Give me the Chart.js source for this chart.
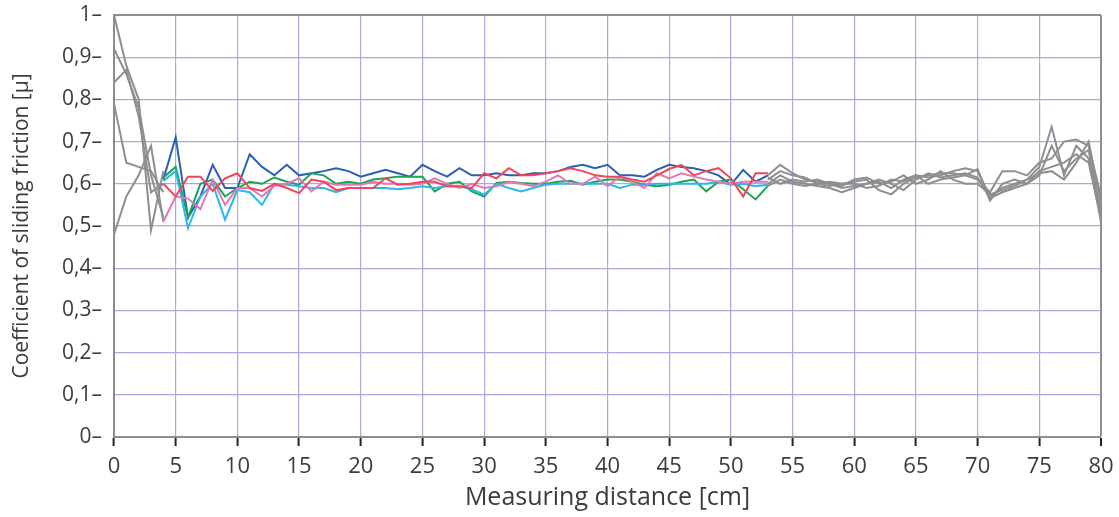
<!DOCTYPE html>
<html>
<head>
<meta charset="utf-8">
<script src="https://cdn.jsdelivr.net/npm/chart.js@4.4.1/dist/chart.umd.min.js"></script>
<style>
  html, body { margin: 0; padding: 0; background: #ffffff; }
  #wrap { width: 1119px; height: 517px; position: relative; }
</style>
</head>
<body>
<div id="wrap"><canvas id="friction"></canvas></div>
<script>
/* ── DATA ─────────────────────────────────────────────────── */
// measuring distance [cm]
const distStart = [0, 1, 2, 3, 4];
const distMid = [4, 5, 6, 7, 8, 9, 10, 11, 12, 13, 14, 15, 16, 17, 18, 19, 20, 21, 22, 23, 24,
  25, 26, 27, 28, 29, 30, 31, 32, 33, 34, 35, 36, 37, 38, 39, 40, 41, 42, 43, 44, 45,
  46, 47, 48, 49, 50, 51, 52, 53];
const distEnd = [53, 54, 55, 56, 57, 58, 59, 60, 61, 62, 63, 64, 65, 66, 67, 68, 69, 70,
  71, 72, 73, 74, 75, 76, 77, 78, 79, 80];

// run-in (grey), 0-4 cm
const grayStart1 = [1.00, 0.88, 0.80, 0.49, 0.63];
const grayStart2 = [0.92, 0.86, 0.78, 0.62, 0.52];
const grayStart3 = [0.84, 0.87, 0.76, 0.58, 0.60];
const grayStart4 = [0.79, 0.65, 0.64, 0.63, 0.58];
const grayStart5 = [0.48, 0.57, 0.62, 0.69, 0.51];

// measured runs, 4-53 cm
const blueRun = [0.61, 0.71, 0.52, 0.57, 0.645, 0.59, 0.59, 0.67, 0.64, 0.62, 0.645, 0.62,
  0.625, 0.63, 0.637, 0.63, 0.617, 0.625, 0.633, 0.625, 0.617, 0.645, 0.63, 0.617, 0.637,
  0.62, 0.62, 0.625, 0.62, 0.62, 0.625, 0.625, 0.63, 0.64, 0.645, 0.637, 0.645, 0.62, 0.62,
  0.617, 0.633, 0.645, 0.64, 0.637, 0.63, 0.62, 0.598, 0.633, 0.605, 0.62];
const greenRun = [0.615, 0.64, 0.52, 0.6, 0.61, 0.57, 0.59, 0.605, 0.6, 0.615, 0.605, 0.598,
  0.625, 0.62, 0.6, 0.605, 0.6, 0.61, 0.613, 0.617, 0.617, 0.617, 0.582, 0.6, 0.605, 0.582,
  0.57, 0.602, 0.605, 0.602, 0.6, 0.6, 0.605, 0.607, 0.598, 0.605, 0.61, 0.61, 0.605, 0.598,
  0.594, 0.598, 0.605, 0.61, 0.582, 0.605, 0.61, 0.587, 0.563, 0.595];
const cyanRun = [0.607, 0.63, 0.495, 0.57, 0.6, 0.515, 0.585, 0.58, 0.55, 0.6, 0.598, 0.594,
  0.59, 0.59, 0.58, 0.59, 0.59, 0.59, 0.59, 0.587, 0.59, 0.594, 0.59, 0.594, 0.594, 0.587,
  0.574, 0.6, 0.59, 0.582, 0.59, 0.598, 0.6, 0.6, 0.6, 0.6, 0.6, 0.59, 0.598, 0.598, 0.6,
  0.6, 0.6, 0.6, 0.6, 0.605, 0.598, 0.6, 0.594, 0.598];
const pinkRun = [0.51, 0.57, 0.565, 0.54, 0.61, 0.55, 0.59, 0.59, 0.57, 0.595, 0.6, 0.613,
  0.582, 0.605, 0.598, 0.598, 0.598, 0.605, 0.6, 0.6, 0.598, 0.6, 0.613, 0.6, 0.59, 0.6,
  0.59, 0.594, 0.605, 0.6, 0.594, 0.605, 0.62, 0.6, 0.6, 0.617, 0.594, 0.617, 0.605, 0.59,
  0.625, 0.613, 0.625, 0.617, 0.61, 0.605, 0.6, 0.605, 0.605, 0.605];
const redRun = [0.6, 0.57, 0.617, 0.617, 0.583, 0.613, 0.625, 0.59, 0.583, 0.6, 0.59, 0.578,
  0.61, 0.605, 0.585, 0.59, 0.59, 0.59, 0.613, 0.598, 0.6, 0.605, 0.605, 0.594, 0.594, 0.59,
  0.625, 0.613, 0.637, 0.62, 0.62, 0.625, 0.63, 0.637, 0.63, 0.62, 0.617, 0.617, 0.61, 0.605,
  0.62, 0.635, 0.645, 0.62, 0.63, 0.637, 0.613, 0.57, 0.625, 0.625];

// run-out (grey), 53-80 cm
const grayEnd1 = [0.62, 0.645, 0.625, 0.61, 0.605, 0.6, 0.59, 0.595, 0.6, 0.605, 0.59, 0.61,
  0.62, 0.615, 0.62, 0.63, 0.637, 0.63, 0.57, 0.59, 0.6, 0.61, 0.64, 0.735, 0.62, 0.69, 0.66, 0.51];
const grayEnd2 = [0.61, 0.63, 0.62, 0.615, 0.6, 0.595, 0.6, 0.605, 0.61, 0.585, 0.575, 0.6,
  0.615, 0.62, 0.625, 0.625, 0.62, 0.61, 0.58, 0.63, 0.63, 0.62, 0.65, 0.66, 0.7, 0.705, 0.69, 0.57];
const grayEnd3 = [0.6, 0.62, 0.605, 0.6, 0.595, 0.59, 0.58, 0.59, 0.6, 0.61, 0.6, 0.585,
  0.61, 0.625, 0.615, 0.62, 0.625, 0.615, 0.566, 0.58, 0.59, 0.6, 0.62, 0.69, 0.63, 0.66, 0.68, 0.53];
const grayEnd4 = [0.615, 0.6, 0.61, 0.605, 0.61, 0.6, 0.595, 0.61, 0.615, 0.6, 0.605, 0.62,
  0.6, 0.61, 0.63, 0.61, 0.6, 0.6, 0.575, 0.585, 0.595, 0.61, 0.625, 0.63, 0.61, 0.65, 0.7, 0.55];
const grayEnd5 = [0.595, 0.61, 0.6, 0.595, 0.6, 0.605, 0.6, 0.6, 0.59, 0.595, 0.61, 0.605,
  0.62, 0.6, 0.61, 0.615, 0.62, 0.635, 0.56, 0.6, 0.61, 0.6, 0.63, 0.64, 0.65, 0.67, 0.65, 0.52];

/* ── HELPERS ──────────────────────────────────────────────── */
const GRID = '#a9a9de';
const FRAME = '#8e8e8e';
const TEXT = '#3c3c3c';
const GREY = '#8e8e8e';

function pts(xs, ys) {
  return xs.map((x, i) => ({ x, y: ys[i] }));
}

function line(data, color) {
  return {
    data,
    borderColor: color,
    backgroundColor: color,
    borderWidth: 2,
    pointRadius: 0,
    tension: 0,
    fill: false
  };
}

/* ── CHART ────────────────────────────────────────────────── */
Chart.defaults.font.family = '"Open Sans", "Noto Sans", sans-serif';
Chart.defaults.color = TEXT;

const datasets = [
  line(pts(distMid, redRun), '#f2455a'),
  line(pts(distMid, pinkRun), '#e278b8'),
  line(pts(distMid, cyanRun), '#2cb6ea'),
  line(pts(distMid, greenRun), '#1ba552'),
  line(pts(distMid, blueRun), '#2c5fb4'),
  line(pts(distStart, grayStart1), GREY),
  line(pts(distStart, grayStart2), GREY),
  line(pts(distStart, grayStart3), GREY),
  line(pts(distStart, grayStart4), GREY),
  line(pts(distStart, grayStart5), GREY),
  line(pts(distEnd, grayEnd1), GREY),
  line(pts(distEnd, grayEnd2), GREY),
  line(pts(distEnd, grayEnd3), GREY),
  line(pts(distEnd, grayEnd4), GREY),
  line(pts(distEnd, grayEnd5), GREY)
];

new Chart(document.getElementById('friction'), {
  type: 'line',
  data: { datasets },
  options: {
    responsive: true,
    maintainAspectRatio: false,
    animation: false,
    layout: { padding: { top: 15, right: 18, left: 0, bottom: 0 } },
    plugins: {
      legend: { display: false },
      tooltip: { enabled: false }
    },
    scales: {
      x: {
        type: 'linear',
        min: 0, max: 80,
        // fixed band under the plot; label overhang handled by layout padding
        afterFit: s => { s.height = 80; s.paddingLeft = 0; s.paddingRight = 0; },
        border: { color: FRAME, width: 2 },
        grid: {
          color: c => (c.tick && c.tick.value === 80) ? FRAME : GRID,
          lineWidth: c => (c.tick && c.tick.value === 80) ? 2 : 1.2,
          tickColor: '#222',
          tickLength: 9,
          tickWidth: 2
        },
        ticks: {
          stepSize: 5,
          maxRotation: 0,
          padding: 8,
          font: { size: 22 }
        },
        title: {
          display: true,
          text: 'Measuring distance [cm]',
          font: { size: 25 },
          padding: { top: 0, bottom: 4 }
        }
      },
      y: {
        min: 0, max: 1,
        afterFit: s => { s.width = 114; s.paddingTop = 0; s.paddingBottom = 0; },
        border: { color: FRAME, width: 2 },
        grid: {
          color: c => (c.tick && c.tick.value === 1) ? FRAME : GRID,
          lineWidth: c => (c.tick && c.tick.value === 1) ? 2 : 1.2,
          drawTicks: false
        },
        ticks: {
          stepSize: 0.1,
          padding: 12,
          font: { size: 21 },
          callback: v => (v === 0 || v === 1 ? String(v) : v.toFixed(1).replace('.', ',')) + '–'
        },
        title: {
          display: true,
          text: 'Coefficient of sliding friction [µ]',
          font: { size: 21 },
          padding: { top: 9, bottom: 0 }
        }
      }
    }
  }
});
</script>
</body>
</html>
